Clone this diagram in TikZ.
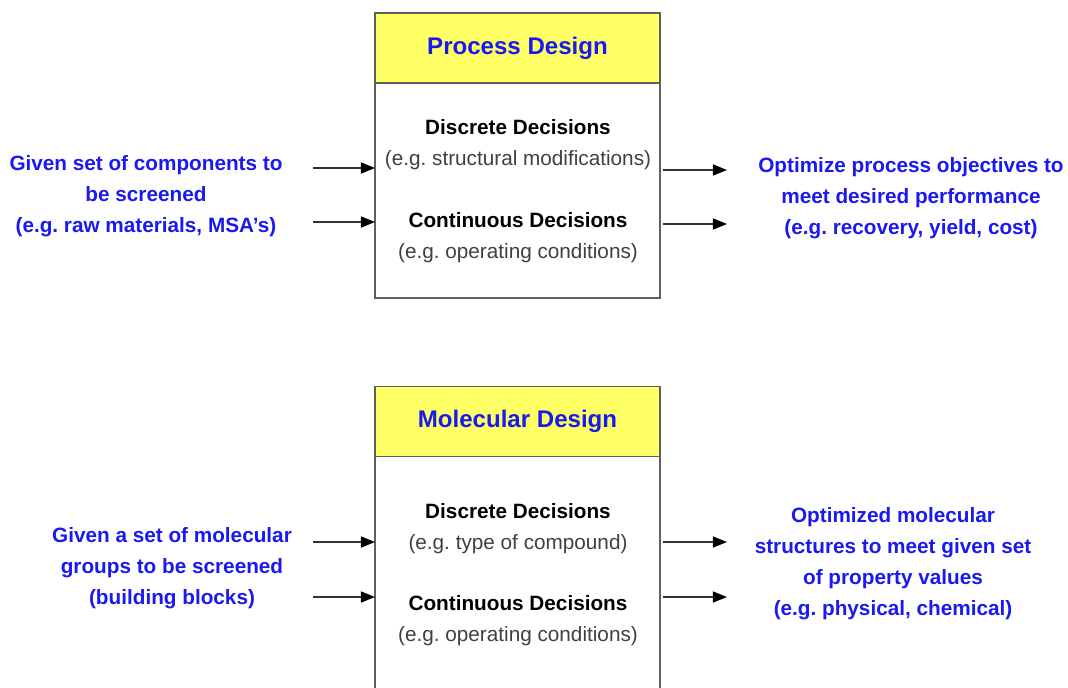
\documentclass[tikz,border=0pt]{standalone}
\usepackage{fontspec}
\setmainfont{Liberation Sans}
\frenchspacing
\usetikzlibrary{positioning,arrows.meta}
\definecolor{hdryellow}{RGB}{255,255,102}
\definecolor{txtblue}{RGB}{25,25,240}
\definecolor{boxgray}{RGB}{95,95,95}

\tikzset{
  header/.style={draw=boxgray, line width=0.8pt, fill=hdryellow, minimum width=5.7cm,
    minimum height=1.4cm, inner sep=0pt, outer sep=0pt, text=txtblue,
    font=\fontsize{13.7}{16}\selectfont\bfseries},
  panel/.style={draw=boxgray, line width=0.8pt, fill=white, minimum width=5.7cm,
    inner sep=0pt, outer sep=0pt},
  decision/.style={align=center, font=\fontsize{11.8}{17.6}\selectfont},
  blueside/.style={align=center, text=txtblue, font=\fontsize{11.8}{17.6}\selectfont\bfseries},
  feed/.style={-{Triangle[length=8pt,width=6.2pt,color=black]}, line width=1pt, black!80}
}

\begin{document}
\begin{tikzpicture}[x=0.02cm, y=-0.02cm]
    \useasboundingbox (0,0) rectangle (1068,687);
    \clip (0,0) rectangle (1068,687);

    % Process design block
    \node[header] (pdhead) at (517.5,48) {Process Design};
    \node[panel, minimum height=4.3cm, below=0pt of pdhead] (pdbody) {};
    \node[decision] (pddisc) at (518,145) {\textbf{Discrete Decisions}\\{\color{black!75}(e.g. structural modifications)}};
    \node[decision] (pdcont) at (518,238) {\textbf{Continuous Decisions}\\{\color{black!75}(e.g. operating conditions)}};

    \node[blueside] (pdgiven) at (146,196) {Given set of components to\\be screened\\(e.g. raw materials, MSA’s)};
    \node[blueside] (pdgoal) at (911,198) {Optimize process objectives to\\meet desired performance\\(e.g. recovery, yield, cost)};

    \coordinate (pdin1) at (313,168);
    \coordinate (pdin2) at (313,222);
    \coordinate (pdout1) at (727,170);
    \coordinate (pdout2) at (727,224);
    \draw[feed] (pdin1) -- (pdin1 -| pdbody.west);
    \draw[feed] (pdin2) -- (pdin2 -| pdbody.west);
    \draw[feed, shorten <=1.5pt] (pdout1 -| pdbody.east) -- (pdout1);
    \draw[feed, shorten <=1.5pt] (pdout2 -| pdbody.east) -- (pdout2);

    % Molecular design block
    \node[header] (mdhead) at (517.5,421.5) {Molecular Design};
    \node[panel, minimum height=5cm, below=0pt of mdhead] (mdbody) {};
    \node[decision] (mddisc) at (518,529) {\textbf{Discrete Decisions}\\{\color{black!75}(e.g. type of compound)}};
    \node[decision] (mdcont) at (518,621) {\textbf{Continuous Decisions}\\{\color{black!75}(e.g. operating conditions)}};

    \node[blueside] (mdgiven) at (172,568) {Given a set of molecular\\groups to be screened\\(building blocks)};
    \node[blueside] (mdgoal) at (893,564) {Optimized molecular\\structures to meet given set\\of property values\\(e.g. physical, chemical)};

    \coordinate (mdin1) at (313,542);
    \coordinate (mdin2) at (313,597);
    \coordinate (mdout1) at (727,542);
    \coordinate (mdout2) at (727,597);
    \draw[feed] (mdin1) -- (mdin1 -| mdbody.west);
    \draw[feed] (mdin2) -- (mdin2 -| mdbody.west);
    \draw[feed, shorten <=1.5pt] (mdout1 -| mdbody.east) -- (mdout1);
    \draw[feed, shorten <=1.5pt] (mdout2 -| mdbody.east) -- (mdout2);
\end{tikzpicture}
\end{document}
